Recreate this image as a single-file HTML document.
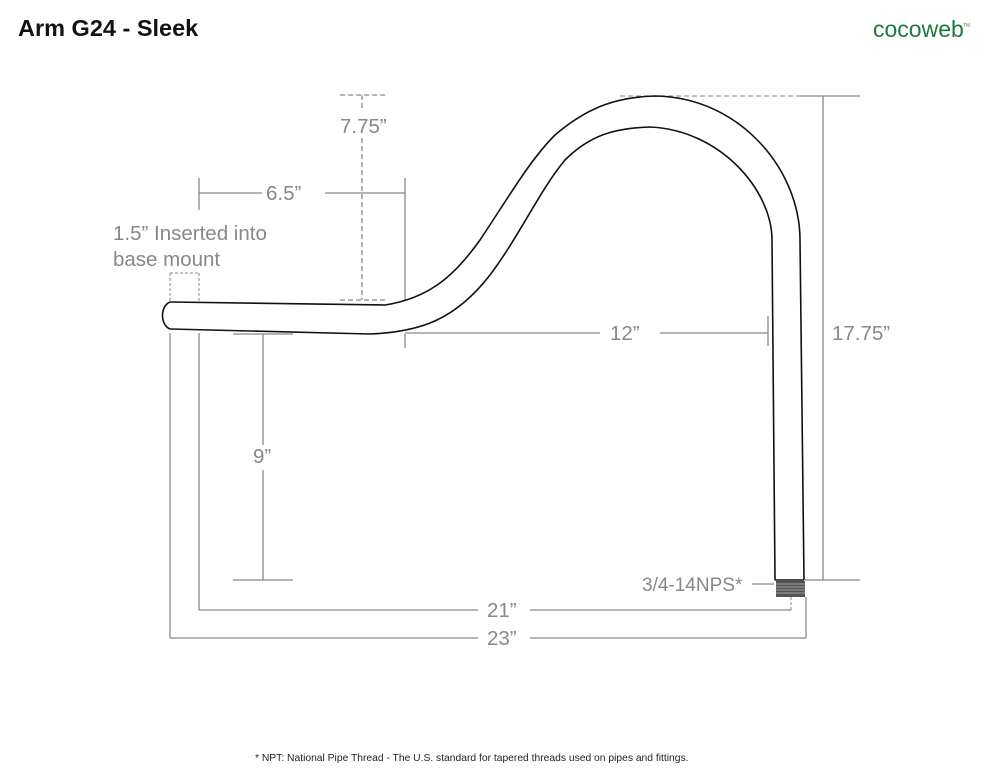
<!DOCTYPE html>
<html><head><meta charset="utf-8"><style>
body{margin:0;background:#fff;width:990px;height:782px;overflow:hidden}
svg{display:block}
text{font-family:"Liberation Sans",sans-serif}
</style></head><body>
<svg width="990" height="782" viewBox="0 0 990 782">
<text x="18" y="36" font-size="23.5" font-weight="bold" fill="#111">Arm G24 - Sleek</text>
<text x="873" y="37" font-size="23" fill="#1f7a3a">cocoweb</text>
<text x="963" y="27" font-size="5" fill="#777">TM</text>

<g stroke="#888" stroke-width="1.3" fill="none">
<line x1="199" y1="178" x2="199" y2="210"/>
<line x1="199" y1="193" x2="262" y2="193"/>
<line x1="325" y1="193" x2="405" y2="193"/>
<line x1="405" y1="178" x2="405" y2="300"/>
<g stroke-dasharray="5,3">
<line x1="340" y1="95" x2="385" y2="95"/>
<line x1="362" y1="95" x2="362" y2="110"/>
<line x1="362" y1="138" x2="362" y2="300"/>
<line x1="340" y1="300" x2="385" y2="300"/>
<line x1="620" y1="96" x2="800" y2="96" stroke="#999"/>
</g>
<line x1="800" y1="96" x2="860" y2="96"/>
<line x1="823" y1="96" x2="823" y2="580"/>
<line x1="805" y1="580" x2="860" y2="580"/>
<g stroke-dasharray="3,2" stroke-width="1">
<line x1="170" y1="273" x2="199" y2="273"/>
<line x1="170" y1="273" x2="170" y2="302"/>
<line x1="199" y1="273" x2="199" y2="302"/>
<line x1="791" y1="597" x2="791" y2="610"/>
</g>
<line x1="405" y1="334" x2="405" y2="348"/>
<line x1="405" y1="333" x2="600" y2="333"/>
<line x1="660" y1="333" x2="768" y2="333"/>
<line x1="768" y1="316" x2="768" y2="346"/>
<line x1="233" y1="334" x2="293" y2="334"/>
<line x1="263" y1="334" x2="263" y2="445"/>
<line x1="263" y1="470" x2="263" y2="580"/>
<line x1="233" y1="580" x2="293" y2="580"/>
<line x1="199" y1="333" x2="199" y2="610"/>
<line x1="199" y1="610" x2="478" y2="610"/>
<line x1="530" y1="610" x2="791" y2="610"/>
<line x1="170" y1="333" x2="170" y2="638"/>
<line x1="170" y1="638" x2="478" y2="638"/>
<line x1="530" y1="638" x2="806" y2="638"/>
<line x1="806" y1="597" x2="806" y2="638"/>
<line x1="752" y1="584" x2="774" y2="584"/>
</g>

<g stroke="#111" stroke-width="1.6" fill="none">
<path d="M170,302 L385,305 C430,298 455,275 480,240 C510,195 530,160 555,135 C590,105 620,97 655,96 C740,97 800,170 800,240 L804,580"/>
<path d="M170,329 L370,334 C420,332 455,320 490,275 C520,235 540,190 565,160 C590,135 615,128 650,127 C720,130 772,190 772,240 L775,580"/>
<path d="M170,302 C160,306 160,325 170,329"/>
<line x1="775" y1="580" x2="804" y2="580"/>
</g>
<rect x="776" y="581" width="29" height="16" fill="#555"/>
<g stroke="#bbb" stroke-width="0.8">
<line x1="776" y1="584" x2="805" y2="584"/><line x1="776" y1="587" x2="805" y2="587"/>
<line x1="776" y1="590" x2="805" y2="590"/><line x1="776" y1="593" x2="805" y2="593"/>
</g>

<g font-size="20.5" fill="#888">
<text x="340" y="133">7.75”</text>
<text x="266" y="200">6.5”</text>
<text x="113" y="240">1.5” Inserted into</text>
<text x="113" y="266">base mount</text>
<text x="610" y="340">12”</text>
<text x="832" y="340">17.75”</text>
<text x="253" y="463">9”</text>
<text x="642" y="591" font-size="19">3/4-14NPS*</text>
<text x="487" y="617">21”</text>
<text x="487" y="645">23”</text>
</g>
<text x="255" y="761" font-size="10.3" fill="#222">* NPT: National Pipe Thread - The U.S. standard for tapered threads used on pipes and fittings.</text>
</svg>
</body></html>
